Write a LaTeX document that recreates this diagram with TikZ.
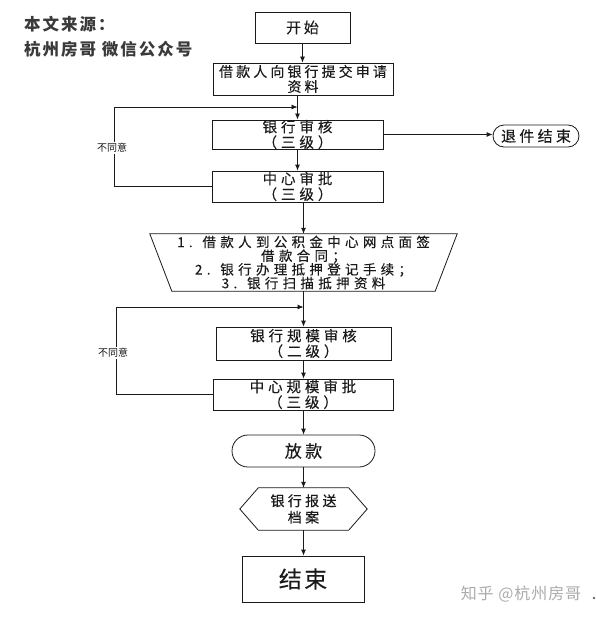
\documentclass[tikz,border=0pt]{standalone}
\usepackage{fontspec}
\setmainfont{Noto Sans CJK SC}
\newfontfamily\cjks[FakeBold=0.12]{Noto Sans CJK SC}
\newfontfamily\cjkh[LetterSpace=12]{Noto Sans CJK SC}
\newcommand{\lsp}[1]{\addfontfeature{LetterSpace=#1}}
\usetikzlibrary{arrows.meta}
\definecolor{ink}{HTML}{1A1A1A}
\definecolor{hdgray}{HTML}{3A3A3A}
\definecolor{wmgray}{HTML}{ABABAB}
\tikzset{
  box/.style={draw=ink, line width=0.8pt, align=center, inner sep=0pt, text=ink,
    font=\cjks\fontsize{14.5}{15.5}\selectfont\lsp{27}},
  plain/.style={align=center, inner sep=0pt, text=ink},
  arr/.style={-{Latex[length=6pt,width=5pt]}, line width=0.8pt, draw=ink},
  ln/.style={line width=0.8pt, draw=ink},
  nolabel/.style={fill=white, inner sep=1pt, text=ink, font=\fontsize{10}{11}\selectfont},
}
\begin{document}
\begin{tikzpicture}[x=1pt,y=-1pt]
\useasboundingbox (0,0) rectangle (596,618);
\fill[white] (0,0) rectangle (596,618);

% header
\node[anchor=base west, inner sep=0pt, text=hdgray, font=\cjkh\bfseries\fontsize{16.5}{20}\selectfont] (hd1) at (24,31) {本文来源：};
\node[anchor=base west, inner sep=0pt, text=hdgray, font=\cjkh\bfseries\fontsize{16.5}{20}\selectfont] (hd2) at (24,56) {杭州房哥 微信公众号};

% nodes
\node[box, minimum width=95pt, minimum height=31pt, font=\cjks\fontsize{15}{16}\selectfont\lsp{18}] (start) at (302.5,27.5) {开始};
\node[box, minimum width=180pt, minimum height=32pt, font=\cjks\fontsize{14}{15}\selectfont\lsp{22}] (apply) at (303,79) {借款人向银行提交申请\\资料};
\node[box, minimum width=171pt, minimum height=29pt] (bank) at (297.5,134.5) {银行审核\\（三级）};
\node[box, minimum width=171pt, minimum height=31pt] (center) at (297.5,186.5) {中心审批\\（三级）};
\node[plain, minimum width=307pt, minimum height=57pt, font=\cjks\fontsize{13.5}{13.7}\selectfont\lsp{32}] (trap) at (303.5,262.5)
  {1. 借款人到公积金中心网点面签\\借款合同；\\2. 银行办理抵押登记手续；\\3. 银行扫描抵押资料};
\draw[ln] (trap.north west) -- (trap.north east) -- ([xshift=-22pt]trap.south east) -- ([xshift=22pt]trap.south west) -- cycle;
\node[box, minimum width=175pt, minimum height=33pt] (bscale) at (303.5,343.5) {银行规模审核\\（二级）};
\node[box, minimum width=180pt, minimum height=31pt] (cscale) at (303,394.5) {中心规模审批\\（三级）};
\node[box, rounded corners=16pt, minimum width=143pt, minimum height=32pt, font=\cjks\fontsize{17}{18}\selectfont\lsp{20}] (loan) at (303.5,451) {放款};
\node[plain, minimum width=127pt, minimum height=42pt, font=\cjks\fontsize{14}{16.5}\selectfont\lsp{24}] (archive) at (303.5,509) {银行报送\\档案};
\draw[ln] (archive.west) -- ([xshift=18.5pt]archive.north west) -- ([xshift=-18.5pt]archive.north east) -- (archive.east) -- ([xshift=-18.5pt]archive.south east) -- ([xshift=18.5pt]archive.south west) -- cycle;
\node[box, minimum width=122pt, minimum height=46pt, font=\cjks\fontsize{23}{24}\selectfont\lsp{10}] (end) at (303,579) {结束};
\node[box, rounded corners=11pt, minimum width=86pt, minimum height=22pt, font=\cjks\fontsize{15}{15}\selectfont\lsp{22}] (reject) at (536,136) {退件结束};

% main flow
\draw[arr] (start.south) -- (start.south |- apply.north);
\draw[arr] (bank.north |- apply.south) -- (bank.north);
\draw[arr] (bank.south) -- (center.north);
\draw[arr] (center.south -| trap.north) -- (trap.north);
\draw[arr] (trap.south) -- (trap.south |- bscale.north);
\draw[arr] (bscale.south) -- (bscale.south |- cscale.north);
\draw[arr] (cscale.south -| loan.north) -- (loan.north);
\draw[arr] (loan.south) -- (archive.north);
\draw[arr] (archive.south) -- (archive.south |- end.north);
\draw[arr] (bank.east) -- (reject.west |- bank.east);

% loops
\coordinate (m1) at (297.5,107);
\coordinate (m2) at (303.5,307);
\draw[arr] (center.west) -- (114,186.5) -- (114,107) -- (m1);
\node[nolabel] (nl1) at (112,148) {不同意};
\draw[arr] (cscale.west) -- (116,394.5) -- (116,307) -- (m2);
\node[nolabel] (nl2) at (113,353) {不同意};

% watermark
\node[inner sep=0pt, text=wmgray, font=\fontsize{16}{17}\selectfont\lsp{6}] (wm) at (521,594) {知乎 @杭州房哥};
\fill[wmgray!60!black] (594,598) circle (1.3pt);
\end{tikzpicture}
\end{document}
